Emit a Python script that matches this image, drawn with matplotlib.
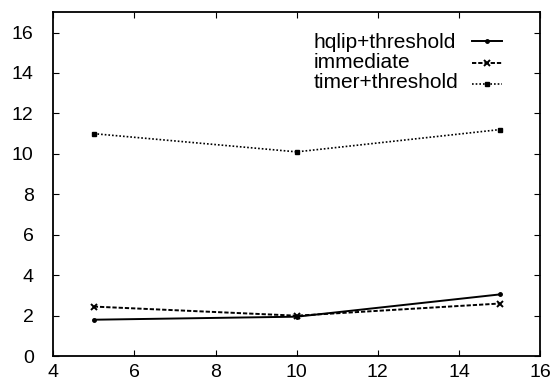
import matplotlib
matplotlib.use("Agg")
import matplotlib.pyplot as plt

plt.rcParams["font.family"] = ["Liberation Sans", "DejaVu Sans"]

x_values = [5, 10, 15]
hqlip_threshold = [1.8, 1.95, 3.05]
immediate = [2.45, 2.0, 2.6]
timer_threshold = [11.0, 10.1, 11.2]
series_labels = ["hqlip+threshold", "immediate", "timer+threshold"]

figure, axes = plt.subplots(figsize=(5.54, 3.85), dpi=100)
line_hqlip, = axes.plot(x_values, hqlip_threshold, color="black", linestyle="-",
                        linewidth=1.4, marker="o", markersize=2.5)
line_immediate, = axes.plot(x_values, immediate, color="black", linestyle=(0, (2.2, 1.0)),
                            linewidth=1.4, marker="x", markersize=4, markeredgewidth=1.4)
line_timer, = axes.plot(x_values, timer_threshold, color="black", linestyle=(0, (1, 1.2)),
                        linewidth=1.2, marker="s", markersize=3)

axes.set_xlim(4, 16)
axes.set_ylim(0, 17)
axes.set_xticks(range(4, 17, 2))
axes.set_yticks(range(0, 17, 2))
axes.tick_params(direction="in", top=True, right=True, labelsize=14, length=4)
axes.tick_params(axis="y", pad=14)
axes.tick_params(axis="x", pad=6)
for spine in axes.spines.values():
    spine.set_linewidth(1.3)

# gnuplot-style key: left-aligned labels with line samples on the right
axes.legend([line_hqlip, line_immediate, line_timer], ["", "", ""], loc="upper left",
            bbox_to_anchor=(0.86, 0.935), frameon=False, fontsize=14,
            handlelength=1.55, handletextpad=0, labelspacing=0.2, borderpad=0,
            borderaxespad=0)
for row, label in enumerate(series_labels):
    axes.text(0.534, 0.913 - row * 0.058, label, transform=axes.transAxes,
              ha="left", va="center", fontsize=15)

figure.subplots_adjust(left=0.096, right=0.975, top=0.968, bottom=0.075)
figure.savefig("out.png", dpi=100)
